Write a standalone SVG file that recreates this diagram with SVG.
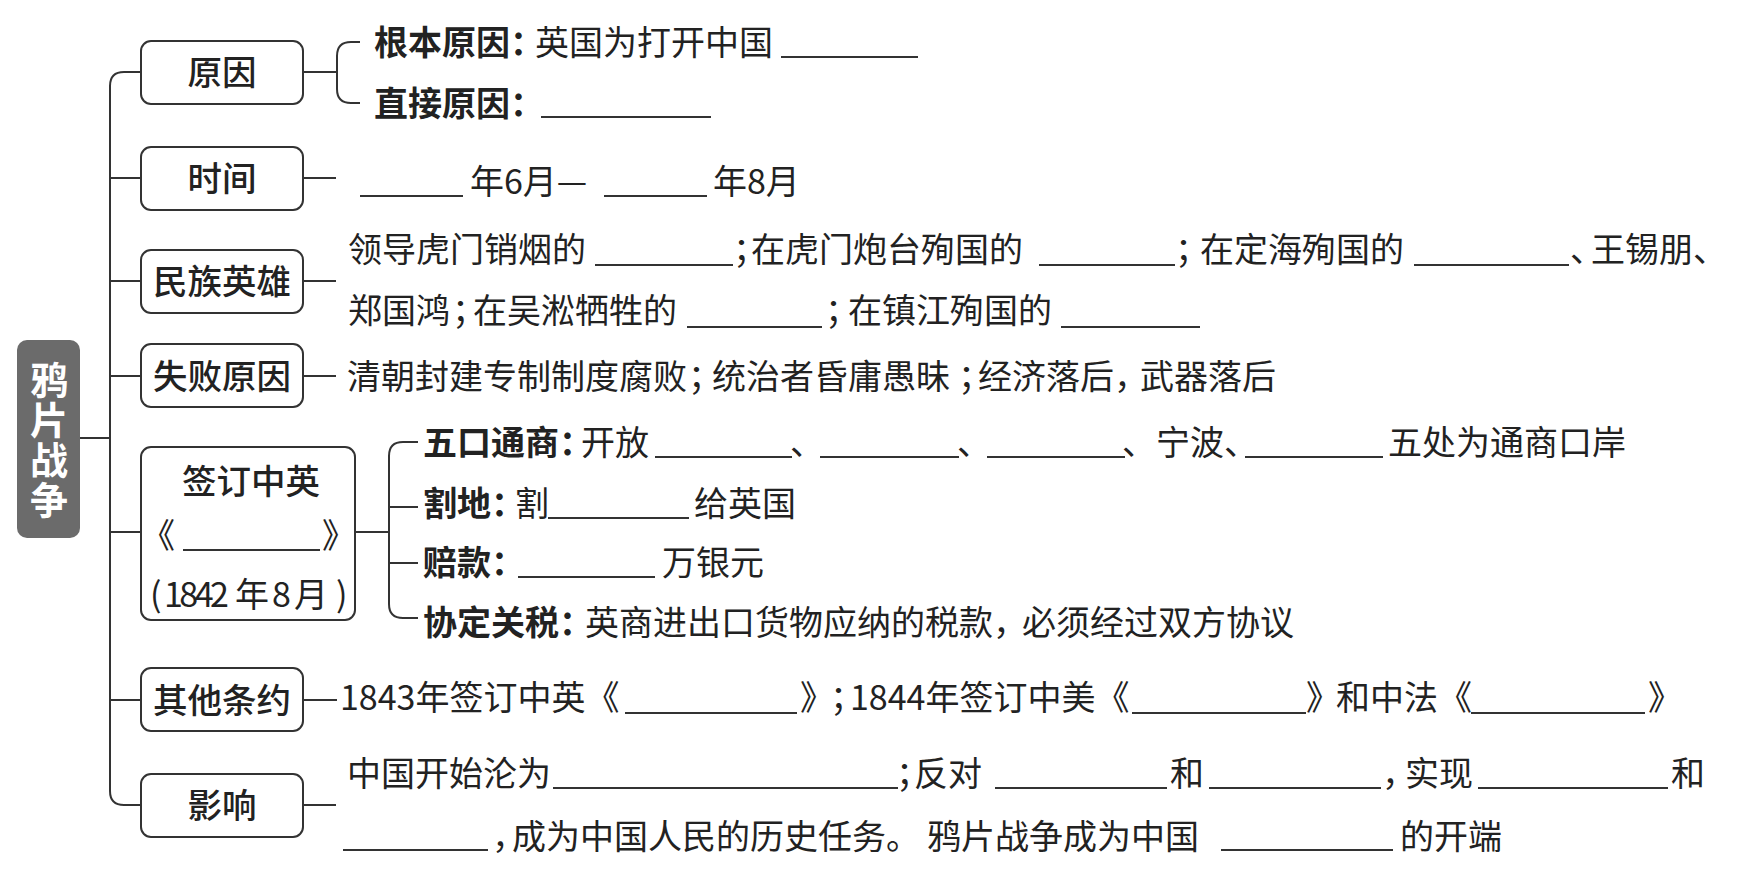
<svg xmlns="http://www.w3.org/2000/svg" width="1738" height="874" viewBox="0 0 1738 874">
<style>
text{font-family:"Noto Sans CJK SC","Noto Sans",sans-serif;fill:#222;}
.t{font-size:34px;}
.b{font-weight:700;}
.h{font-feature-settings:"halt" 1;}
.cd{letter-spacing:-3.5px;}
.lbl{font-size:34.5px;font-weight:500;text-anchor:middle;}
.ttl{font-size:38px;font-weight:700;fill:#fff;writing-mode:vertical-rl;letter-spacing:2px;}
.box{fill:#fff;stroke:#333;stroke-width:2;}
.ln{fill:none;stroke:#333;stroke-width:2;}
.ul{stroke:#333;stroke-width:1.8;}
</style>
<rect width="1738" height="874" fill="#fff"/>
<g id="connectors" class="ln">
<path d="M80,438 H110"/>
<path d="M141,72 H124 Q110,72 110,86 V791 Q110,805 124,805 H141"/>
<path d="M110,178 H141 M110,281 H141 M110,376 H141 M110,532 H141 M110,700 H141"/>
<path d="M303,72 H337 M360,42 H351 Q337,42 337,56 V89 Q337,103 351,103 H360"/>
<path d="M303,178 H336 M303,281 H336 M303,376 H336 M303,700 H337 M303,805 H336"/>
<path d="M355,532 H389 M418,442 H403 Q389,442 389,456 V604 Q389,618 403,618 H418 M389,507 H418 M389,563 H418"/>
</g>
<g id="title">
<rect x="17" y="340" width="63" height="198" rx="10" fill="#6b6b6b"/>
<text class="ttl" x="49" y="361">鸦片战争</text>
</g>
<g id="node-yuanyin">
<rect class="box" x="141" y="41" width="162" height="63" rx="10"/>
<text class="lbl" x="222" y="85">原因</text>
</g>
<g id="node-shijian">
<rect class="box" x="141" y="147" width="162" height="63" rx="10"/>
<text class="lbl" x="222" y="191">时间</text>
</g>
<g id="node-yingxiong">
<rect class="box" x="141" y="250" width="162" height="63" rx="10"/>
<text class="lbl" x="222" y="294">民族英雄</text>
</g>
<g id="node-shibai">
<rect class="box" x="141" y="344" width="162" height="63" rx="10"/>
<text class="lbl" x="222" y="389">失败原因</text>
</g>
<g id="node-tiaoyue">
<rect class="box" x="141" y="447" width="214" height="173" rx="10"/>
<text class="lbl" x="251" y="494">签订中英</text>
<text class="t" y="548"><tspan x="141">《</tspan><tspan x="322">》</tspan></text>
<line class="ul" x1="183" y1="550" x2="320" y2="550"/>
<text class="t" y="607"><tspan x="150">(</tspan><tspan class="cd" x="164">1842</tspan><tspan x="235">年</tspan><tspan x="272">8</tspan><tspan x="294">月</tspan><tspan x="336">)</tspan></text>
</g>
<g id="node-qita">
<rect class="box" x="141" y="668" width="162" height="63" rx="10"/>
<text class="lbl" x="222" y="713">其他条约</text>
</g>
<g id="node-yingxiang">
<rect class="box" x="141" y="774" width="162" height="63" rx="10"/>
<text class="lbl" x="222" y="818">影响</text>
</g>
<g id="text-yuanyin">
<text class="t" y="55"><tspan class="b" x="374">根本原因</tspan><tspan class="b h" x="510">：</tspan><tspan x="535">英国为打开中国</tspan></text>
<line class="ul" x1="781" y1="57" x2="918" y2="57"/>
<text class="t" y="116"><tspan class="b" x="374">直接原因</tspan><tspan class="b h" x="510">：</tspan></text>
<line class="ul" x1="541" y1="117" x2="711" y2="117"/>
</g>
<g id="text-shijian">
<line class="ul" x1="360" y1="196" x2="463" y2="196"/>
<text class="t" y="194"><tspan x="470">年6月—</tspan><tspan x="713">年8月</tspan></text>
<line class="ul" x1="604" y1="196" x2="707" y2="196"/>
</g>
<g id="text-yingxiong">
<text class="t" y="262"><tspan x="348">领导虎门销烟的</tspan><tspan class="h" x="733">；</tspan><tspan x="751">在虎门炮台殉国的</tspan><tspan class="h" x="1175">；</tspan><tspan x="1200">在定海殉国的</tspan><tspan class="h" x="1570">、</tspan><tspan x="1591">王锡朋、</tspan></text>
<line class="ul" x1="595" y1="265" x2="733" y2="265"/>
<line class="ul" x1="1039" y1="265" x2="1175" y2="265"/>
<line class="ul" x1="1414" y1="265" x2="1569" y2="265"/>
<text class="t" y="323"><tspan x="348">郑国鸿</tspan><tspan class="h" x="452">；</tspan><tspan x="473">在吴淞牺牲的</tspan><tspan class="h" x="825">；</tspan><tspan x="848">在镇江殉国的</tspan></text>
<line class="ul" x1="687" y1="327" x2="822" y2="327"/>
<line class="ul" x1="1061" y1="327" x2="1200" y2="327"/>
</g>
<g id="text-shibai">
<text class="t" y="389"><tspan x="347">清朝封建专制制度腐败</tspan><tspan class="h" x="688">；</tspan><tspan x="712">统治者昏庸愚昧</tspan><tspan class="h" x="958">；</tspan><tspan x="978">经济落后</tspan><tspan class="h" x="1114">，</tspan><tspan x="1140">武器落后</tspan></text>
</g>
<g id="text-tiaoyue">
<text class="t" y="455"><tspan class="b" x="423">五口通商</tspan><tspan class="b h" x="559">：</tspan><tspan x="581">开放</tspan><tspan x="790">、</tspan><tspan x="957">、</tspan><tspan x="1122">、宁波、</tspan><tspan x="1388">五处为通商口岸</tspan></text>
<line class="ul" x1="655" y1="457" x2="792" y2="457"/>
<line class="ul" x1="820" y1="457" x2="959" y2="457"/>
<line class="ul" x1="987" y1="457" x2="1125" y2="457"/>
<line class="ul" x1="1245" y1="457" x2="1383" y2="457"/>
<text class="t" y="516"><tspan class="b" x="423">割地</tspan><tspan class="b h" x="491">：</tspan><tspan x="515">割</tspan><tspan x="694">给英国</tspan></text>
<line class="ul" x1="548" y1="518" x2="689" y2="518"/>
<text class="t" y="575"><tspan class="b" x="423">赔款</tspan><tspan class="b h" x="491">：</tspan><tspan x="662">万银元</tspan></text>
<line class="ul" x1="518" y1="577" x2="655" y2="577"/>
<text class="t" y="635"><tspan class="b" x="423">协定关税</tspan><tspan class="b h" x="559">：</tspan><tspan x="585">英商进出口货物应纳的税款</tspan><tspan class="h" x="993">，</tspan><tspan x="1022">必须经过双方协议</tspan></text>
</g>
<g id="text-qita">
<text class="t" y="710"><tspan x="340">1843年签订中英《</tspan><tspan class="h" x="800">》</tspan><tspan class="h" x="830">；</tspan><tspan x="850">1844年签订中美《</tspan><tspan class="h" x="1306">》</tspan><tspan x="1336">和中法《</tspan><tspan x="1648">》</tspan></text>
<line class="ul" x1="625" y1="713" x2="797" y2="713"/>
<line class="ul" x1="1132" y1="713" x2="1306" y2="713"/>
<line class="ul" x1="1471" y1="713" x2="1645" y2="713"/>
</g>
<g id="text-yingxiang">
<text class="t" y="786"><tspan x="347">中国开始沦为</tspan><tspan class="h" x="896">；</tspan><tspan x="914">反对</tspan><tspan x="1170">和</tspan><tspan class="h" x="1382">，</tspan><tspan x="1405">实现</tspan><tspan x="1671">和</tspan></text>
<line class="ul" x1="553" y1="788" x2="898" y2="788"/>
<line class="ul" x1="995" y1="788" x2="1167" y2="788"/>
<line class="ul" x1="1209" y1="788" x2="1381" y2="788"/>
<line class="ul" x1="1478" y1="788" x2="1668" y2="788"/>
<text class="t" y="849"><tspan class="h" x="492">，</tspan><tspan x="512">成为中国人民的历史任务。</tspan><tspan x="927">鸦片战争成为中国</tspan><tspan x="1400">的开端</tspan></text>
<line class="ul" x1="343" y1="850" x2="488" y2="850"/>
<line class="ul" x1="1221" y1="850" x2="1393" y2="850"/>
</g>
</svg>
